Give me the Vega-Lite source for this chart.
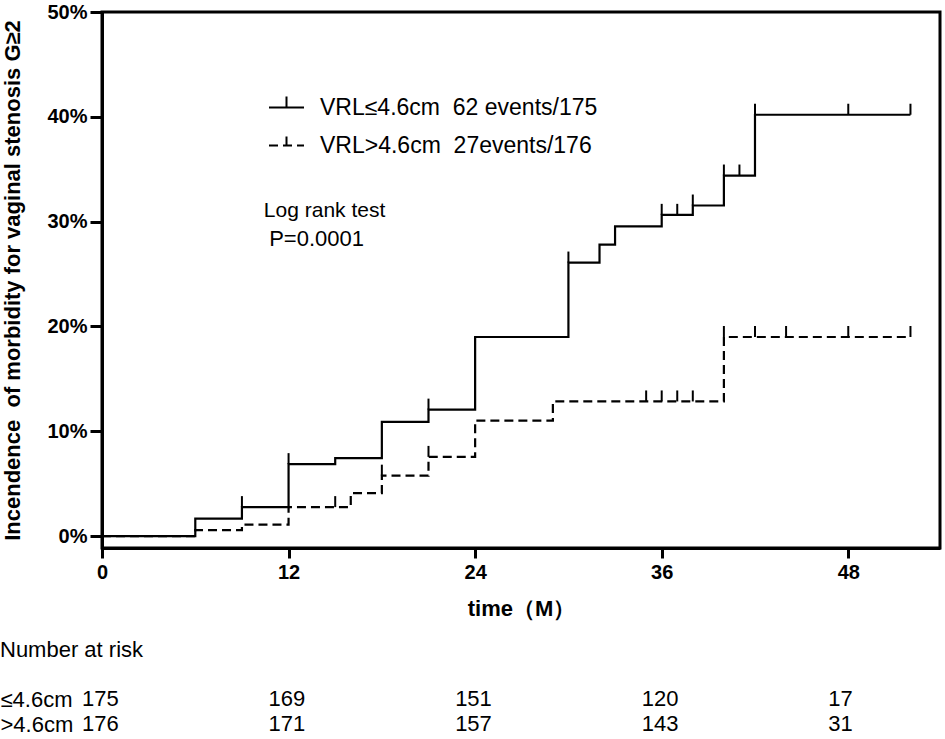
{
  "$schema": "https://vega.github.io/schema/vega-lite/v6.json",
  "padding": 0,
  "background": "white",
  "config": {
    "font": "Liberation Sans",
    "view": {"stroke": null},
    "text": {"color": "black"}
  },
  "datasets": {
    "curves": [
      {"group": "≤4.6cm", "time": 0, "value": 0},
      {"group": "≤4.6cm", "time": 6, "value": 0.0167},
      {"group": "≤4.6cm", "time": 9, "value": 0.0277},
      {"group": "≤4.6cm", "time": 12, "value": 0.0687},
      {"group": "≤4.6cm", "time": 15, "value": 0.0744},
      {"group": "≤4.6cm", "time": 18, "value": 0.109},
      {"group": "≤4.6cm", "time": 21, "value": 0.1207},
      {"group": "≤4.6cm", "time": 24, "value": 0.190},
      {"group": "≤4.6cm", "time": 30, "value": 0.261},
      {"group": "≤4.6cm", "time": 32, "value": 0.278},
      {"group": "≤4.6cm", "time": 33, "value": 0.2955},
      {"group": "≤4.6cm", "time": 36, "value": 0.3065},
      {"group": "≤4.6cm", "time": 38, "value": 0.3154},
      {"group": "≤4.6cm", "time": 40, "value": 0.344},
      {"group": "≤4.6cm", "time": 42, "value": 0.402},
      {"group": "≤4.6cm", "time": 52, "value": 0.402},
      {"group": ">4.6cm", "time": 0, "value": 0},
      {"group": ">4.6cm", "time": 6, "value": 0.0057},
      {"group": ">4.6cm", "time": 9, "value": 0.011},
      {"group": ">4.6cm", "time": 12, "value": 0.0277},
      {"group": ">4.6cm", "time": 16, "value": 0.041},
      {"group": ">4.6cm", "time": 18, "value": 0.0577},
      {"group": ">4.6cm", "time": 21, "value": 0.0756},
      {"group": ">4.6cm", "time": 24, "value": 0.1103},
      {"group": ">4.6cm", "time": 29, "value": 0.1285},
      {"group": ">4.6cm", "time": 40, "value": 0.19},
      {"group": ">4.6cm", "time": 52, "value": 0.19}
    ],
    "censored": [
      {"group": "≤4.6cm", "time": 9, "value": 0.0277},
      {"group": "≤4.6cm", "time": 12, "value": 0.0687},
      {"group": "≤4.6cm", "time": 21, "value": 0.1207},
      {"group": "≤4.6cm", "time": 30, "value": 0.261},
      {"group": "≤4.6cm", "time": 36, "value": 0.3065},
      {"group": "≤4.6cm", "time": 37, "value": 0.3065},
      {"group": "≤4.6cm", "time": 38, "value": 0.3154},
      {"group": "≤4.6cm", "time": 40, "value": 0.344},
      {"group": "≤4.6cm", "time": 41, "value": 0.344},
      {"group": "≤4.6cm", "time": 42, "value": 0.402},
      {"group": "≤4.6cm", "time": 48, "value": 0.402},
      {"group": "≤4.6cm", "time": 52, "value": 0.402},
      {"group": ">4.6cm", "time": 15, "value": 0.0277},
      {"group": ">4.6cm", "time": 18, "value": 0.0577},
      {"group": ">4.6cm", "time": 21, "value": 0.0756},
      {"group": ">4.6cm", "time": 35, "value": 0.1285},
      {"group": ">4.6cm", "time": 36, "value": 0.1285},
      {"group": ">4.6cm", "time": 37, "value": 0.1285},
      {"group": ">4.6cm", "time": 38, "value": 0.1285},
      {"group": ">4.6cm", "time": 40, "value": 0.19},
      {"group": ">4.6cm", "time": 42, "value": 0.19},
      {"group": ">4.6cm", "time": 44, "value": 0.19},
      {"group": ">4.6cm", "time": 48, "value": 0.19},
      {"group": ">4.6cm", "time": 52, "value": 0.19}
    ],
    "risk": [
      {"group": "≤4.6cm", "time": 0, "n": 175},
      {"group": "≤4.6cm", "time": 12, "n": 169},
      {"group": "≤4.6cm", "time": 24, "n": 151},
      {"group": "≤4.6cm", "time": 36, "n": 120},
      {"group": "≤4.6cm", "time": 48, "n": 17},
      {"group": ">4.6cm", "time": 0, "n": 176},
      {"group": ">4.6cm", "time": 12, "n": 171},
      {"group": ">4.6cm", "time": 24, "n": 157},
      {"group": ">4.6cm", "time": 36, "n": 143},
      {"group": ">4.6cm", "time": 48, "n": 31}
    ]
  },
  "align": "all",
  "spacing": 18,
  "vconcat": [
    {
      "width": 838,
      "height": 536,
      "view": {"stroke": "black", "strokeWidth": 3},
      "layer": [
        {
          "data": {"name": "curves"},
          "mark": {"type": "line", "interpolate": "step-after", "color": "black", "strokeWidth": 2.2},
          "encoding": {
            "x": {
              "field": "time",
              "type": "quantitative",
              "scale": {"domain": [0, 53.9], "nice": false, "zero": false},
              "axis": {
                "values": [0, 12, 24, 36, 48],
                "title": "time（M）",
                "grid": false,
                "domainColor": "black",
                "domainWidth": 3,
                "tickColor": "black",
                "tickWidth": 3,
                "tickSize": 10,
                "labelFontSize": 20,
                "labelFontWeight": "bold",
                "labelColor": "black",
                "labelPadding": 4,
                "labelFlush": false,
                "titleFontSize": 22,
                "titleFontWeight": "bold",
                "titleColor": "black",
                "titlePadding": 16
              }
            },
            "y": {
              "field": "value",
              "type": "quantitative",
              "scale": {"domain": [-0.0113, 0.5], "nice": false, "zero": false},
              "axis": {
                "values": [0, 0.1, 0.2, 0.3, 0.4, 0.5],
                "format": ".0%",
                "title": "Incendence\u00a0 of morbidity for vaginal stenosis G≥2",
                "grid": false,
                "domainColor": "black",
                "domainWidth": 3,
                "tickColor": "black",
                "tickWidth": 3,
                "tickSize": 12,
                "labelFontSize": 20,
                "labelFontWeight": "bold",
                "labelColor": "black",
                "labelPadding": 3,
                "labelFlush": false,
                "titleFontSize": 22,
                "titleFontWeight": "bold",
                "titleColor": "black",
                "titlePadding": 22
              }
            },
            "strokeDash": {
              "field": "group",
              "type": "nominal",
              "scale": {"domain": ["≤4.6cm", ">4.6cm"], "range": [[1, 0], [9, 5]]},
              "legend": {
                "orient": "none",
                "legendX": 166,
                "legendY": 77,
                "title": null,
                "padding": 0,
                "symbolType": "M-1,0H1M0,0V-0.63",
                "symbolSize": 1225,
                "symbolStrokeWidth": 2,
                "symbolStrokeColor": "black",
                "labelFontSize": 23,
                "labelColor": "black",
                "labelOffset": 15,
                "labelLimit": 400,
                "rowPadding": 7,
                "labelExpr": "datum.label == '≤4.6cm' ? 'VRL≤4.6cm\u00a0 62 events/175' : 'VRL>4.6cm\u00a0 27events/176'"
              }
            }
          }
        },
        {
          "data": {"name": "censored"},
          "mark": {"type": "point", "shape": "M0,0V-2", "filled": false, "color": "black", "strokeWidth": 2, "size": 121, "opacity": 1},
          "encoding": {
            "x": {"field": "time", "type": "quantitative"},
            "y": {"field": "value", "type": "quantitative"}
          }
        },
        {
          "data": {"values": [{}]},
          "mark": {"type": "text", "align": "left", "baseline": "middle", "fontSize": 21},
          "encoding": {
            "x": {"datum": 10.41},
            "y": {"datum": 0.31},
            "text": {"value": "Log rank test"}
          }
        },
        {
          "data": {"values": [{}]},
          "mark": {"type": "text", "align": "left", "baseline": "middle", "fontSize": 22},
          "encoding": {
            "x": {"datum": 10.75},
            "y": {"datum": 0.283},
            "text": {"value": "P=0.0001"}
          }
        }
      ]
    },
    {
      "width": 838,
      "height": 25,
      "data": {"name": "risk"},
      "title": {
        "text": "Number at risk",
        "anchor": "start",
        "frame": "bounds",
        "fontSize": 22,
        "fontWeight": "normal",
        "color": "black",
        "offset": 26
      },
      "mark": {"type": "text", "fontSize": 22, "align": "left", "dx": -20, "baseline": "middle"},
      "encoding": {
        "x": {
          "field": "time",
          "type": "quantitative",
          "scale": {"domain": [0, 53.9], "nice": false, "zero": false},
          "axis": null
        },
        "y": {
          "field": "group",
          "type": "nominal",
          "scale": {"type": "point", "domain": ["≤4.6cm", ">4.6cm"], "padding": 0},
          "axis": {
            "title": null,
            "domain": false,
            "ticks": false,
            "labelAlign": "left",
            "labelBaseline": "middle",
            "labelPadding": 102,
            "labelFontSize": 22,
            "labelColor": "black"
          }
        },
        "text": {"field": "n", "type": "quantitative"}
      }
    }
  ]
}
